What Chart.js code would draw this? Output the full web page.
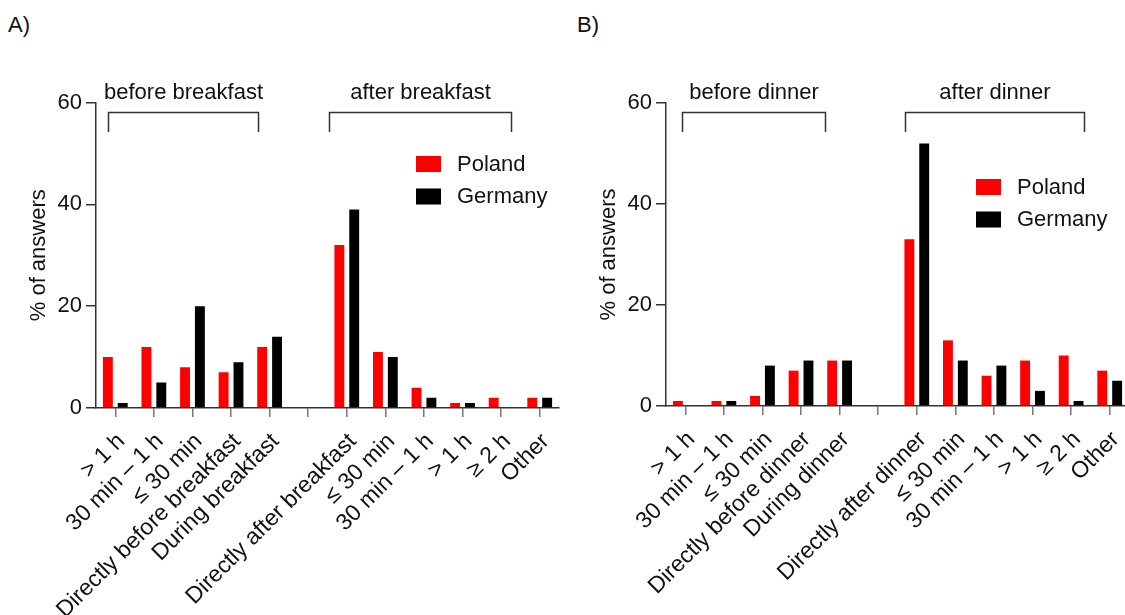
<!DOCTYPE html>
<html>
<head>
<meta charset="utf-8">
<script src="https://cdn.jsdelivr.net/npm/chart.js@4.4.0/dist/chart.umd.min.js"></script>
<style>
  html, body { margin: 0; padding: 0; background: #fff; overflow: hidden; }
  body { width: 1125px; height: 615px; position: relative; font-family: "Liberation Sans", Arial, sans-serif; }
  .panel { position: absolute; top: 0; width: 560px; height: 615px; }
  .tag { position: absolute; top: 12px; font-size: 22px; color: #111; }
</style>
</head>
<body>
<div class="tag" style="left:8px">A)</div>
<div class="tag" style="left:577px">B)</div>
<div class="panel" style="left:0"><canvas id="chartA" width="560" height="615"></canvas></div>
<div class="panel" style="left:570px"><canvas id="chartB" width="560" height="615"></canvas></div>
<script>
// datos (% de respuestas)
const categoriesA = ['> 1 h', '30 min – 1 h', '≤ 30 min', 'Directly before breakfast', 'During breakfast', '',
    'Directly after breakfast', '≤ 30 min', '30 min – 1 h', '> 1 h', '≥ 2 h', 'Other'];
const polandA  = [10, 12, 8, 7, 12, null, 32, 11, 4, 1, 2, 2];
const germanyA = [1, 5, 20, 9, 14, null, 39, 10, 2, 1, 0, 2];
const groupsA  = ['before breakfast', 'after breakfast'];

const categoriesB = ['> 1 h', '30 min – 1 h', '≤ 30 min', 'Directly before dinner', 'During dinner', '',
    'Directly after dinner', '≤ 30 min', '30 min – 1 h', '> 1 h', '≥ 2 h', 'Other'];
const polandB  = [1, 1, 2, 7, 9, null, 33, 13, 6, 9, 10, 7];
const germanyB = [0, 1, 8, 9, 9, null, 52, 9, 8, 3, 1, 5];
const groupsB  = ['before dinner', 'after dinner'];

const seriesNames  = ['Poland', 'Germany'];
const seriesColors = ['#ff0000', '#000000'];
const yTicks = [0, 20, 40, 60];

const FONT = '"Liberation Sans", Arial, sans-serif';
const INK = '#111';
const AXIS = '#333';

// corchetes de grupo + leyenda dibujados sobre la escala x
const annotate = {
    id: 'annotate',
    afterDraw(chart, args, opts) {
        const ctx = chart.ctx;
        const x = chart.scales.x;
        ctx.save();
        ctx.font = '22px ' + FONT;
        ctx.fillStyle = INK;
        ctx.strokeStyle = AXIS;
        ctx.lineWidth = 1.5;

        // corchetes
        opts.groups.forEach((name, i) => {
            const x0 = Math.round(x.getPixelForValue(opts.spans[i][0])) + 0.5;
            const x1 = Math.round(x.getPixelForValue(opts.spans[i][1])) + 0.5;
            ctx.beginPath();
            ctx.moveTo(x0, 132);
            ctx.lineTo(x0, 112.5);
            ctx.lineTo(x1, 112.5);
            ctx.lineTo(x1, 132);
            ctx.stroke();
            ctx.textAlign = 'center';
            ctx.textBaseline = 'alphabetic';
            ctx.fillText(name, (x0 + x1) / 2, 99);
        });

        // leyenda
        ctx.textAlign = 'left';
        ctx.textBaseline = 'middle';
        chart.data.datasets.forEach((ds, i) => {
            const y = opts.legendY + i * 32.5;
            ctx.fillStyle = ds.backgroundColor;
            ctx.fillRect(opts.legendX, y, 25, 16);
            ctx.fillStyle = INK;
            ctx.fillText(ds.label, opts.legendX + 41, y + 8.5);
        });
        ctx.restore();
    }
};

function buildChart(canvasId, labels, pol, ger, groups, lay) {
    return new Chart(document.getElementById(canvasId), {
        type: 'bar',
        data: {
            labels: labels,
            datasets: [
                { label: seriesNames[0], data: pol, backgroundColor: seriesColors[0] },
                { label: seriesNames[1], data: ger, backgroundColor: seriesColors[1] }
            ]
        },
        options: {
            responsive: false,
            animation: false,
            layout: { padding: { top: lay.top, right: 1, left: 0, bottom: 0 } },
            datasets: { bar: { categoryPercentage: 0.77, barPercentage: 0.667 } },
            plugins: {
                legend: { display: false },
                tooltip: { enabled: false },
                annotate: { groups: groups, spans: lay.spans, legendX: lay.legendX, legendY: lay.legendY }
            },
            scales: {
                x: {
                    offset: true,
                    grid: { drawOnChartArea: false, drawTicks: true, tickLength: 9, color: '#777', lineWidth: 1.5, offset: false },
                    border: { color: AXIS, width: 1.5 },
                    ticks: { autoSkip: false, minRotation: 45, maxRotation: 45, padding: 11, labelOffset: 6, color: INK, font: { family: FONT, size: 23 } },
                    afterFit(s) {
                        s.height = lay.xHeight;
                        // no dejar que las etiquetas giradas encojan el área
                        s.paddingLeft = 0;
                        s.paddingRight = 0;
                    }
                },
                y: {
                    min: 0,
                    max: 60,
                    grid: { drawOnChartArea: false, tickLength: 10, color: AXIS, lineWidth: 1.5 },
                    border: { color: AXIS, width: 1.5 },
                    ticks: { padding: 4, color: INK, font: { family: FONT, size: 22 } },
                    afterBuildTicks(s) { s.ticks = yTicks.map(v => ({ value: v })); },
                    title: { display: true, text: '% of answers', color: INK, font: { family: FONT, size: 22 }, padding: { top: 26, bottom: 0 } },
                    afterFit(s) { s.width = 96; }
                }
            }
        },
        plugins: [annotate]
    });
}

buildChart('chartA', categoriesA, polandA, germanyA, groupsA, {
    top: 102.5, xHeight: 207, spans: [[-0.19, 3.69], [5.54, 10.25]], legendX: 416, legendY: 156
});
buildChart('chartB', categoriesB, polandB, germanyB, groupsB, {
    top: 103, xHeight: 209, spans: [[-0.09, 3.62], [5.69, 10.33]], legendX: 406, legendY: 179
});
</script>
</body>
</html>
